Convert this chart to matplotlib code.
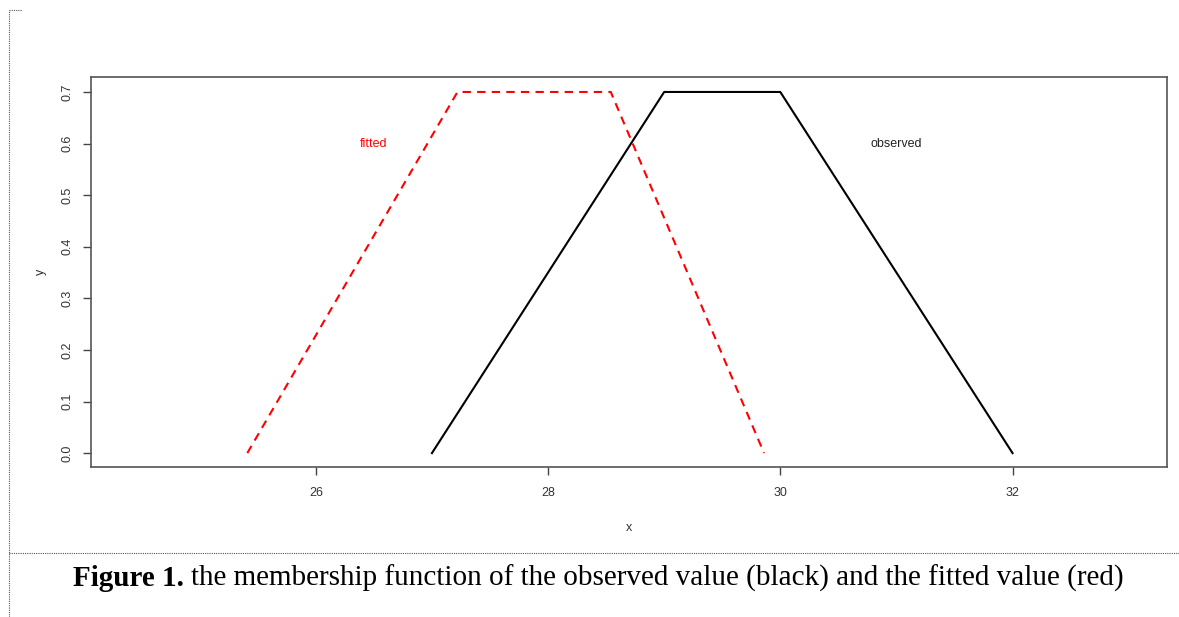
import matplotlib
matplotlib.use("Agg")
import matplotlib.pyplot as plt
from matplotlib.lines import Line2D

# membership functions (trapezoids)
obs_x = [27, 29, 30, 32]
obs_y = [0.0, 0.7, 0.7, 0.0]
fit_x = [25.41, 27.22, 28.54, 29.86]
fit_y = [0.0, 0.7, 0.7, 0.0]

x_ticks = [26, 28, 30, 32]
y_ticks = [0.0, 0.1, 0.2, 0.3, 0.4, 0.5, 0.6, 0.7]

fig = plt.figure(figsize=(11.79, 6.17), dpi=100)
ax = fig.add_axes([0.0768, 0.2439, 0.9130, 0.6313])

ax.plot(obs_x, obs_y, color='black', lw=1.5)
ax.plot(fit_x, fit_y, color='red', lw=1.5, linestyle=(0, (4, 3)))

ax.text(26.5, 0.6, 'fitted', color='red', fontsize=9, ha='center', va='center',
        family='Liberation Sans')
ax.text(31.0, 0.6, 'observed', color='#222222', fontsize=9, ha='center', va='center',
        family='Liberation Sans')

ax.set_xlim(24.06, 33.33)
ax.set_ylim(-0.026, 0.729)
ax.set_xticks(x_ticks)
ax.set_xticklabels([str(t) for t in x_ticks])
ax.set_yticks(y_ticks)
ax.set_yticklabels([f"{t:.1f}" for t in y_ticks], rotation=90, va='center')
ax.tick_params(direction='out', length=6, width=1, colors='#444444', labelcolor='#333333',
               labelsize=9, pad=9)
ax.tick_params(axis='y', pad=6)
for lab in ax.get_xticklabels() + ax.get_yticklabels():
    lab.set_family('Liberation Sans')
for sp in ax.spines.values():
    sp.set_color('#555555')
    sp.set_linewidth(1.2)

ax.set_xlabel('x', fontsize=9, color='#333333', family='Liberation Sans', labelpad=16)
ax.set_ylabel('y', fontsize=9, color='#333333', family='Liberation Sans', labelpad=11)

# page decorations: dotted frame lines of the document
fig.add_artist(Line2D([9 / 1179, 9 / 1179], [0, 1 - 10 / 617], transform=fig.transFigure,
                      color='#555555', lw=0.8, linestyle=(0, (1, 1))))
fig.add_artist(Line2D([9 / 1179, 22 / 1179], [1 - 10 / 617, 1 - 10 / 617], transform=fig.transFigure,
                      color='#555555', lw=0.8, linestyle=(0, (1, 1))))
fig.add_artist(Line2D([9 / 1179, 1], [1 - 553 / 617, 1 - 553 / 617], transform=fig.transFigure,
                      color='#555555', lw=0.8, linestyle=(0, (1, 1))))

# caption
cap_y = 1 - 578 / 617
t1 = fig.text(73 / 1179, cap_y, 'Figure 1.', fontsize=21, fontweight='bold',
              family='Liberation Serif', va='center', ha='left')
renderer = fig.canvas.get_renderer()
bb = t1.get_window_extent(renderer)
fig.text((bb.x1 + 7) / 1179, cap_y,
         'the membership function of the observed value (black) and the fitted value (red)',
         fontsize=21, family='Liberation Serif', va='center', ha='left')

fig.savefig('out.png', dpi=100)
